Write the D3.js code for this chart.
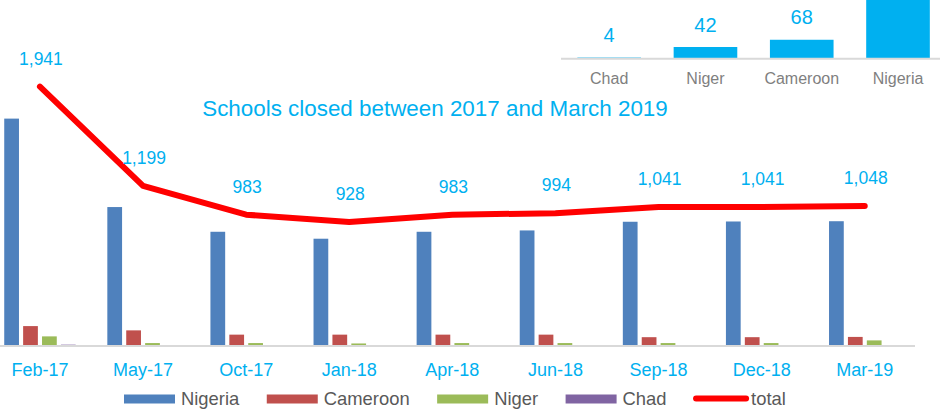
<!DOCTYPE html>
<html><head><meta charset="utf-8">
<script src="https://cdn.jsdelivr.net/npm/d3@7"></script>
<style>body{margin:0;background:#fff;}svg{display:block;font-family:"Liberation Sans",Arial,sans-serif;}</style>
</head><body>
<svg id="c" width="940" height="410"></svg>
<script>
const categories = ["Feb-17","May-17","Oct-17","Jan-18","Apr-18","Jun-18","Sep-18","Dec-18","Mar-19"];
const nigeria  = [1702, 1040, 855, 803, 855, 865, 930, 932, 934];
const cameroon = [149, 117, 85, 85, 85, 85, 66, 66, 68];
const niger    = [72, 22, 22, 19, 22, 22, 22, 22, 42];
const chad     = [10, 4, 4, 4, 4, 4, 4, 4, 4];
const total    = [1941, 1199, 983, 928, 983, 994, 1041, 1041, 1048];
const seriesNames = ["Nigeria","Cameroon","Niger","Chad"];
const seriesColors = ["#4F81BD","#C0504D","#9BBB59","#8064A2"];
const insetCountries = ["Chad","Niger","Cameroon","Nigeria"];
const insetValues = [4, 42, 68, 934];
const title = "Schools closed between 2017 and March 2019";

const seriesData = [nigeria, cameroon, niger, chad];
const svg = d3.select("#c");
const blue = "#00B0F0";

// main scales
const x = d3.scaleBand().domain(categories).range([-11.6, 916.3]).paddingInner(0).paddingOuter(0);
const y = d3.scaleLinear().domain([0, 2000]).range([346, 78.8]);
const xs = d3.scaleBand().domain(seriesNames).range([-37.8, 37.8]).paddingInner(0.22).paddingOuter(0.11);

// bars
const groups = svg.append("g").selectAll("g").data(categories).join("g")
  .attr("transform", d => `translate(${x(d) + x.bandwidth()/2},0)`);
groups.selectAll("rect").data((d,i) => seriesNames.map((s,j) => ({s, v: seriesData[j][i], c: seriesColors[j]})))
  .join("rect")
  .attr("x", d => xs(d.s)).attr("width", xs.bandwidth())
  .attr("y", d => y(d.v)).attr("height", d => y(0) - y(d.v))
  .attr("fill", d => d.c);

// baseline axis
const xAxis = d3.axisBottom(x).tickSize(0).tickPadding(0);
const ax = svg.append("g").attr("transform", `translate(0,${y(0)})`).call(xAxis);
ax.select(".domain").attr("stroke", "#d9d9d9").attr("stroke-width", 2).attr("d", `M0,0H915`);
ax.selectAll(".tick text").attr("fill", blue).attr("font-size", 18).attr("dy", 0).attr("y", 30)
  .attr("font-family", "Liberation Sans, Arial, sans-serif");

// total line
const line = d3.line().x((d,i) => x(categories[i]) + x.bandwidth()/2).y(d => y(d));
svg.append("path").datum(total).attr("d", line).attr("fill", "none")
  .attr("stroke", "#FF0000").attr("stroke-width", 6).attr("stroke-linecap", "round").attr("stroke-linejoin", "round");

const fmt = d3.format(",");
svg.append("g").selectAll("text").data(total).join("text")
  .attr("x", (d,i) => x(categories[i]) + x.bandwidth()/2 + 1)
  .attr("y", d => y(d) - 22)
  .attr("text-anchor", "middle").attr("fill", blue).attr("font-size", 17.5)
  .text(d => fmt(d));

// title
svg.append("text").attr("x", 435).attr("y", 116).attr("text-anchor", "middle")
  .attr("fill", blue).attr("font-size", 22.4).text(title);

// inset chart (extends above the visible frame, as in the reference)
const xi = d3.scaleBand().domain(insetCountries).range([561, 946.2]).paddingInner(0.339).paddingOuter(0.17);
const yi = d3.scaleLinear().domain([0, 1000]).range([58.7, -219.8]);
svg.append("g").selectAll("rect").data(insetCountries).join("rect")
  .attr("x", d => xi(d)).attr("width", xi.bandwidth())
  .attr("y", (d,i) => yi(insetValues[i])).attr("height", (d,i) => yi(0) - yi(insetValues[i]))
  .attr("fill", blue);
const axi = svg.append("g").attr("transform", `translate(0,${yi(0)})`).call(d3.axisBottom(xi).tickSize(0).tickPadding(0));
axi.select(".domain").attr("stroke", "#d9d9d9").attr("stroke-width", 2).attr("d", "M561,0H946");
axi.selectAll(".tick text").attr("fill", "#7f7f7f").attr("font-size", 16).attr("dy", 0).attr("y", 25.5)
  .attr("font-family", "Liberation Sans, Arial, sans-serif");
const insetLabels = insetCountries.map((c,i) => ({c, v: insetValues[i]})).filter(d => yi(d.v) - 15.5 > 20);
svg.append("g").selectAll("text").data(insetLabels).join("text")
  .attr("x", d => xi(d.c) + xi.bandwidth()/2)
  .attr("y", d => yi(d.v) - 15.5)
  .attr("text-anchor", "middle").attr("fill", blue).attr("font-size", 20)
  .text(d => d.v);

// legend
const legendItems = seriesNames.map((s,i) => ({name: s, color: seriesColors[i], type: "rect"}))
  .concat([{name: "total", color: "#FF0000", type: "line"}]);
const lg = svg.append("g");
let lx = 124;
legendItems.forEach(it => {
  if (it.type === "rect") {
    lg.append("rect").attr("x", lx).attr("y", 394.5).attr("width", 51).attr("height", 9).attr("fill", it.color);
  } else {
    lg.append("line").attr("x1", lx + 2).attr("x2", lx + 52).attr("y1", 398.5).attr("y2", 398.5)
      .attr("stroke", it.color).attr("stroke-width", 6).attr("stroke-linecap", "round");
  }
  const t = lg.append("text").attr("x", lx + 57).attr("y", 405).attr("fill", "#595959").attr("font-size", 18.4).text(it.name);
  lx += 57 + t.node().getComputedTextLength() + 27.5;
});
</script>
</body></html>
